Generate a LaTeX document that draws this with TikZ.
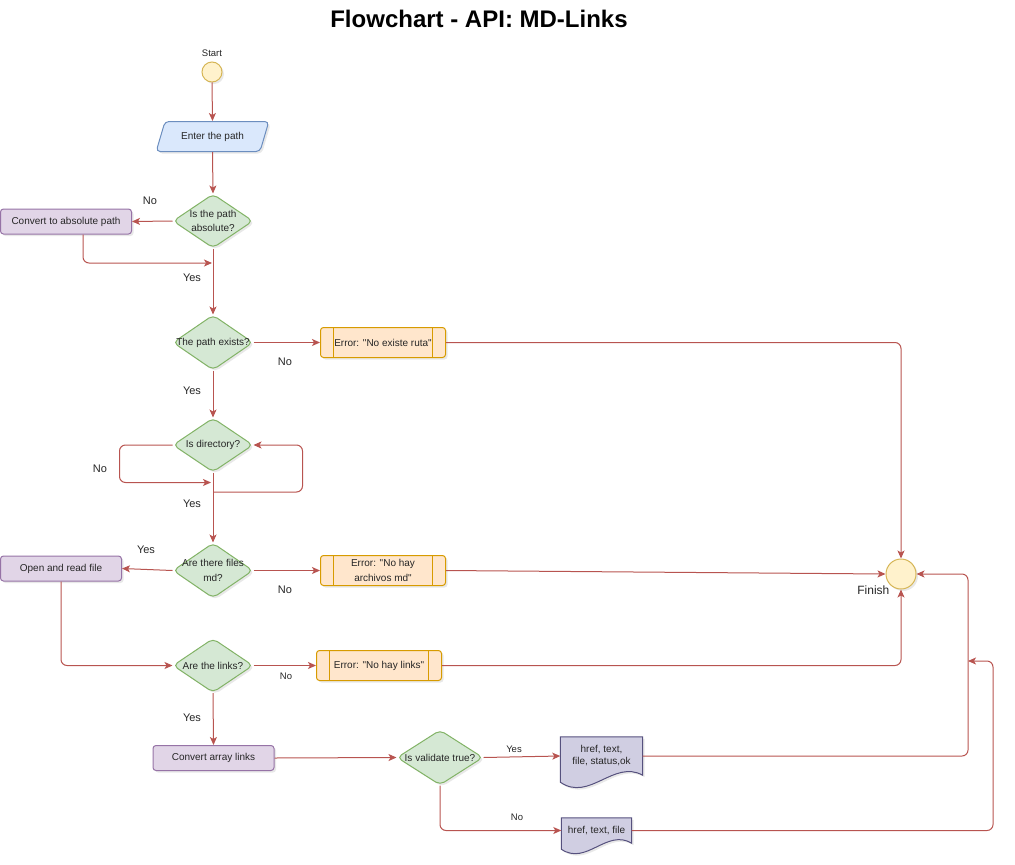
\documentclass[tikz,border=0pt]{standalone}
\usepackage{fontspec}
\setmainfont{Liberation Sans}[Ligatures=TeXOff]
\usetikzlibrary{shapes.geometric, arrows.meta, positioning, calc, backgrounds, shadows}

\definecolor{flowred}{HTML}{B85450}
\definecolor{qfill}{HTML}{D5E8D4}
\definecolor{qdraw}{HTML}{82B366}
\definecolor{pfill}{HTML}{E1D5E7}
\definecolor{pdraw}{HTML}{9673A6}
\definecolor{efill}{HTML}{FFE6CC}
\definecolor{edraw}{HTML}{D79B00}
\definecolor{tfill}{HTML}{FFF2CC}
\definecolor{tdraw}{HTML}{D6B656}
\definecolor{ifill}{HTML}{DAE8FC}
\definecolor{idraw}{HTML}{6C8EBF}
\definecolor{dfill}{HTML}{D0CEE2}
\definecolor{ddraw}{HTML}{56517E}

\begin{document}
\begin{tikzpicture}[x=1pt, y=-1pt,
  txt/.style={font=\fontsize{10}{14.5}\selectfont, text=black!85},
  yn/.style={font=\fontsize{11}{13}\selectfont, text=black!85},
  ynsmall/.style={font=\fontsize{9.5}{11}\selectfont, text=black!85},
  shade/.style={drop shadow={opacity=0.18, shadow xshift=2pt, shadow yshift=-2pt}},
  flow/.style={draw=flowred, line width=1pt, rounded corners=6pt,
    -{Stealth[length=8pt, width=7pt, inset=2pt]}},
  terminal/.style={circle, draw=tdraw, fill=tfill, line width=1pt, inner sep=0pt, shade},
  inbox/.style={trapezium, trapezium left angle=68, trapezium right angle=112,
    trapezium stretches=true, draw=idraw, fill=ifill, line width=1pt, rounded corners=4pt,
    minimum width=113pt, minimum height=30pt, txt, shade},
  question/.style={diamond, draw=qdraw, fill=qfill, line width=1pt, rounded corners=5pt,
    minimum width=80pt, minimum height=54pt, inner sep=0pt, shade},
  procbox/.style={rectangle, draw=pdraw, fill=pfill, line width=1pt, rounded corners=3pt,
    minimum height=25pt, inner sep=2pt, txt, shade},
  errbox/.style={rectangle, draw=edraw, fill=efill, line width=1pt, rounded corners=3pt,
    minimum width=125pt, minimum height=30pt, inner sep=2pt, align=center, txt, shade,
    path picture={\draw[edraw, line width=1pt]
      ([xshift=13pt]path picture bounding box.north west) -- ([xshift=13pt]path picture bounding box.south west)
      ([xshift=-13pt]path picture bounding box.north east) -- ([xshift=-13pt]path picture bounding box.south east);}},
  docbox/.style={rectangle, inner sep=0pt, align=center, font=\fontsize{10}{12}\selectfont, text=black!85},
  docshape/.style={draw=ddraw, fill=dfill, line width=1pt, shade}
]

  \useasboundingbox (0,0) rectangle (1015,865);

  \node [font=\fontsize{24}{28}\selectfont\bfseries] (title) at (479,19) {Flowchart - API: MD-Links};

  \node [terminal, minimum size=20pt, label={[ynsmall, label distance=1pt]above:Start}] (start) at (212,72) {};

  \node [inbox] (enter) at (212.5,136.5) {Enter the path};

  \node [question, label={[txt, align=center]center:Is the path\\absolute?}] (absq) at (213,221) {};

  \node [procbox, minimum width=131pt] (conv) at (66,221.5) {Convert to absolute path};

  \node [question, minimum height=55pt, label={[txt]center:The path exists?}] (exists) at (213,342.5) {};

  \node [errbox] (err1) at (383,342.5) {Error: "No existe ruta"};

  \node [question, label={[txt]center:Is directory?}] (isdir) at (213,445) {};

  \node [question, minimum height=55pt, label={[txt, align=center]center:Are there files\\md?}] (files) at (213,570.5) {};

  \node [errbox] (err2) at (383,570.5) {Error: "No hay\\archivos md"};

  \node [procbox, minimum width=121pt] (openf) at (61,568.5) {Open and read file};

  \node [question, label={[txt]center:Are the links?}] (links) at (213,665.5) {};

  \node [errbox] (err3) at (379,665.5) {Error: "No hay links"};

  \node [procbox, minimum width=121pt] (arrl) at (213.5,758) {Convert array links};

  \node [question, minimum width=86pt, minimum height=55pt, label={[txt]center:Is validate true?}] (valid) at (440,757.5) {};

  \node [docbox, minimum width=82pt, minimum height=38pt] (doc1) at (601.5,756) {href, text,\\file, status,ok};

  \node [docbox, minimum width=70pt, minimum height=25pt] (doc2) at (596.5,830.5) {href, text, file};

  \node [terminal, minimum size=30pt, label={[yn, font=\fontsize{12}{14}\selectfont, label distance=-4pt]below left:Finish}] (fin) at (901,574) {};

  % document shapes behind their texts
  \begin{scope}[on background layer]
    \draw[docshape] (doc1.north west) -- (doc1.north east) -- (doc1.south east)
      .. controls ($(doc1.south east)+(-29,-16)$) and ($(doc1.south west)+(29,27)$) .. ($(doc1.south west)+(0,7)$) -- cycle;
    \draw[docshape] (doc2.north west) -- (doc2.north east) -- (doc2.south east)
      .. controls ($(doc2.south east)+(-25,-15)$) and ($(doc2.south west)+(25,23)$) .. ($(doc2.south west)+(0,6)$) -- cycle;
  \end{scope}

  \coordinate (jabs) at (212,263);
  \coordinate (dirin) at (211,482.5);
  \coordinate (dirout) at (213,492);
  \coordinate (jfin) at (968,574);
  \coordinate (jin) at (968,661);

  \draw[flow] (start.south) -- (enter.north);
  \draw[flow] (enter.south) -- (absq.north);
  \draw[flow] (absq.west) -- (conv.east);
  \draw[flow] ([xshift=17pt]conv.south) |- (jabs);
  \draw[flow] (absq.south) -- (exists.north);

  \draw[flow] (exists.east) -- (err1.west);
  \draw[flow] (exists.south) -- (isdir.north);
  \draw[flow] (err1.east) -| (fin.north);

  \draw[flow] (isdir.west) -- ++(-53,0) |- (dirin);
  \draw[flow] (dirout) -| ($(isdir.east)+(49,0)$) -- (isdir.east);
  \draw[flow] (isdir.south) -- (files.north);

  \draw[flow] (files.west) -- (openf.east);
  \draw[flow] (files.east) -- (err2.west);
  \draw[flow] (err2.east) -- (fin.west);
  \draw[flow] (openf.south) |- (links.west);

  \draw[flow] (links.east) -- (err3.west);
  \draw[flow] (err3.east) -| (fin.south);
  \draw[flow] (links.south) -- (arrl.north);

  \draw[flow] (arrl.east) -- (valid.west);
  \draw[flow] (valid.east) -- (doc1.west);
  \draw[flow] (valid.south) |- (doc2.west);
  \draw[flow] (doc1.east) -| (jfin) -- (fin.east);
  \draw[flow] (doc2.east) -| ($(jin)+(25,0)$) -- (jin);

  \node [yn] (noAbs) at (150,201) {No};
  \node [yn] (yesAbs) at (192,278) {Yes};
  \node [yn] (noExists) at (285,362) {No};
  \node [yn] (yesExists) at (192,391) {Yes};
  \node [yn] (noDir) at (100,469) {No};
  \node [yn] (yesDir) at (192,504) {Yes};
  \node [yn] (yesFiles) at (146,550) {Yes};
  \node [yn] (noFiles) at (285,590) {No};
  \node [ynsmall] (noLinks) at (286,676) {No};
  \node [yn] (yesLinks) at (192,718) {Yes};
  \node [ynsmall] (yesValid) at (514,749) {Yes};
  \node [ynsmall] (noValid) at (517,817) {No};

\end{tikzpicture}
\end{document}
